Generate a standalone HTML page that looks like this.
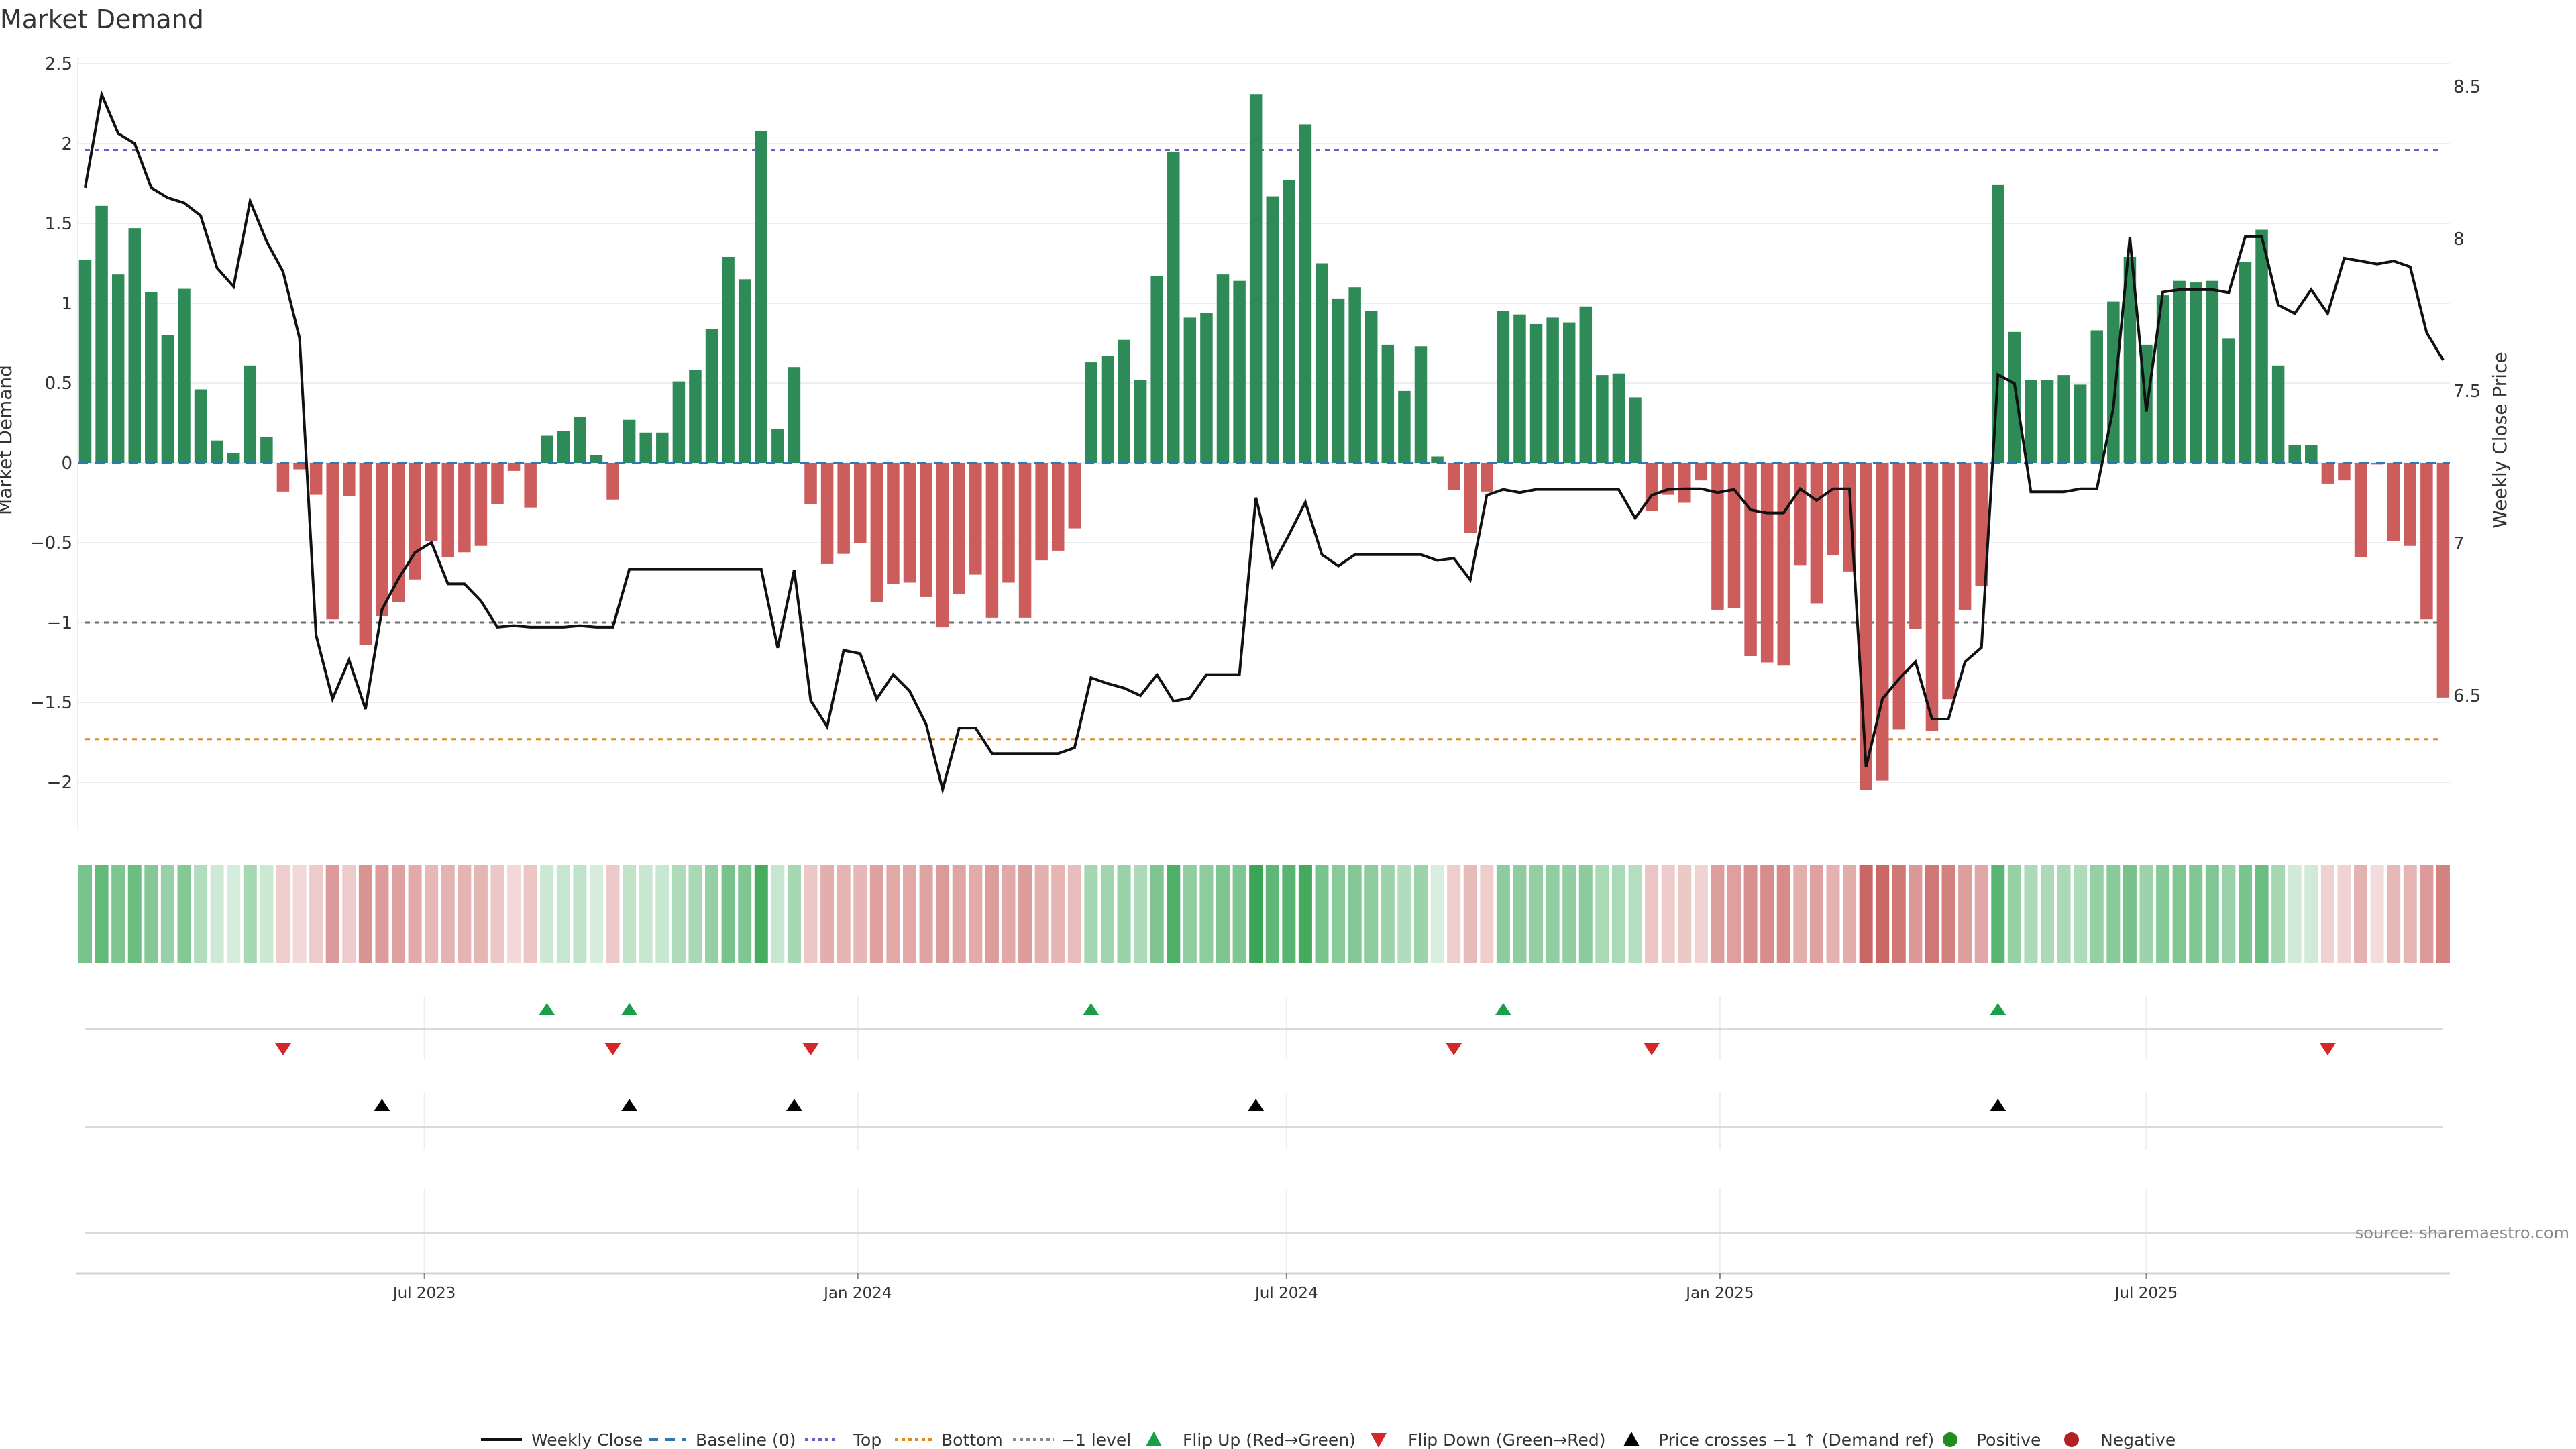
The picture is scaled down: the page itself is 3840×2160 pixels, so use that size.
<!DOCTYPE html>
<html><head><meta charset="utf-8"><title>Market Demand</title>
<style>
html,body{margin:0;padding:0;background:#fff;}
svg{display:block;font-family:"DejaVu Sans","Liberation Sans",sans-serif;}
</style></head>
<body>
<svg id="chart" width="3840" height="2160" viewBox="0 0 3840 2160" xmlns="http://www.w3.org/2000/svg">
<text x="0" y="42" font-size="38" fill="#333">Market Demand</text>
<g id="grid"></g>
<g id="levels"></g>
<g id="bars"></g>
<g id="baseline"></g>
<g id="price"></g>
<g id="heat"></g>
<g id="markers"></g>
<g id="axes"></g>
<text x="17" y="656" font-size="28" fill="#333" text-anchor="middle" transform="rotate(-90 17 656)">Market Demand</text>
<text x="3736" y="656" font-size="28" fill="#333" text-anchor="middle" transform="rotate(-90 3736 656)">Weekly Close Price</text>
<text x="3830" y="1846" font-size="24" fill="#888" text-anchor="end">source: sharemaestro.com</text>
<g id="legend"></g>
</svg>
<script>
const demand = [1.27,1.61,1.18,1.47,1.07,0.80,1.09,0.46,0.14,0.06,0.61,0.16,-0.18,-0.04,-0.20,-0.98,-0.21,-1.14,-0.96,-0.87,-0.73,-0.49,-0.59,-0.56,-0.52,-0.26,-0.05,-0.28,0.17,0.20,0.29,0.05,-0.23,0.27,0.19,0.19,0.51,0.58,0.84,1.29,1.15,2.08,0.21,0.60,-0.26,-0.63,-0.57,-0.50,-0.87,
-0.76,-0.75,-0.84,-1.03,-0.82,-0.70,-0.97,-0.75,-0.97,-0.61,-0.55,-0.41,0.63,0.67,0.77,0.52,1.17,1.95,0.91,0.94,1.18,1.14,2.31,1.67,1.77,2.12,1.25,1.03,1.10,0.95,0.74,0.45,0.73,0.04,-0.17,-0.44,-0.18,0.95,0.93,0.87,0.91,0.88,0.98,0.55,0.56,0.41,-0.30,-0.20,-0.25,
-0.11,-0.92,-0.91,-1.21,-1.25,-1.27,-0.64,-0.88,-0.58,-0.68,-2.05,-1.99,-1.67,-1.04,-1.68,-1.48,-0.92,-0.77,1.74,0.82,0.52,0.52,0.55,0.49,0.83,1.01,1.29,0.74,1.05,1.14,1.13,1.14,0.78,1.26,1.46,0.61,0.11,0.11,-0.13,-0.11,-0.59,-0.01,-0.49,-0.52,-0.98,-1.47];
const price = [8.168,8.474,8.346,8.313,8.168,8.135,8.118,8.076,7.904,7.843,8.124,7.992,7.892,7.674,6.699,6.489,6.617,6.456,6.783,6.884,6.970,7.003,6.867,6.867,6.811,6.725,6.73,6.725,6.725,6.725,6.73,6.725,6.725,6.915,6.915,6.915,6.915,6.915,6.915,6.915,6.915,6.915,6.657,6.913,6.484,6.398,6.649,6.638,6.489,
6.569,6.515,6.406,6.192,6.394,6.394,6.310,6.310,6.310,6.310,6.310,6.329,6.559,6.540,6.525,6.500,6.569,6.482,6.492,6.569,6.569,6.569,7.150,6.926,7.028,7.135,6.963,6.926,6.963,6.963,6.963,6.963,6.963,6.944,6.951,6.880,7.158,7.177,7.167,7.177,7.177,7.177,7.177,7.177,7.177,7.083,7.158,7.177,7.179,
7.179,7.167,7.177,7.110,7.100,7.100,7.179,7.141,7.179,7.179,6.266,6.490,6.555,6.611,6.423,6.423,6.611,6.658,7.554,7.525,7.169,7.169,7.169,7.179,7.179,7.445,8.005,7.433,7.825,7.833,7.833,7.833,7.823,8.007,8.007,7.783,7.755,7.833,7.755,7.936,7.927,7.917,7.927,7.908,7.692,7.602];
const startDate = "2023-02-07";
const yTicks = [2.5,2,1.5,1,0.5,0,-0.5,-1,-1.5,-2];
const yTickLabels = ["2.5","2","1.5","1","0.5","0","\u22120.5","\u22121","\u22121.5","\u22122"];
const y2Ticks = [8.5,8,7.5,7,6.5];
const y2TickLabels = ["8.5","8","7.5","7","6.5"];
const xTickDates = ["2023-07-01","2024-01-01","2024-07-01","2025-01-01","2025-07-01"];
const xTickLabels = ["Jul 2023","Jan 2024","Jul 2024","Jan 2025","Jul 2025"];
const topLevel = 1.96, bottomLevel = -1.73, minusOneLevel = -1;

const NS = "http://www.w3.org/2000/svg";
function mk(tag, attrs, parent){const e=document.createElementNS(NS,tag);for(const k in attrs)e.setAttribute(k,attrs[k]);parent.appendChild(e);return e;}
const X0=127, STEP=24.58, L=116, R=3652;
const xi = i => X0 + i*STEP;
const xd = d => X0 + ((Date.parse(d)-Date.parse(startDate))/86400000/7)*STEP;
const yv = v => 690 - v*238;
const yp = p => 129 + (8.5-p)*454;

// grid
const grid=document.getElementById('grid');
yTicks.forEach((t,k)=>{
  const l=mk('line',{x1:L,x2:R,y1:yv(t),y2:yv(t),stroke:'#eceef1','stroke-width':2},grid);
  
  
  const tx=mk('text',{x:108,y:yv(t)+9,'font-size':26,fill:'#333','text-anchor':'end'},grid);
  tx.textContent=yTickLabels[k];
  
  
});
y2Ticks.forEach((t,k)=>{
  const tx=mk('text',{x:3657,y:yp(t)+9,'font-size':26,fill:'#333'},grid);
  tx.textContent=y2TickLabels[k];
  
  
});
const ax=mk('line',{x1:L,x2:L,y1:85,y2:1237,stroke:'#eceef1','stroke-width':2},grid);



// levels
const lv=document.getElementById('levels');
[[topLevel,'#6a5acd','top-level'],[minusOneLevel,'#6e6e6e','minus-one-level'],[bottomLevel,'#e08a1e','bottom-level']].forEach(a=>{
  const l=mk('line',{x1:X0,x2:xi(demand.length-1),y1:yv(a[0]),y2:yv(a[0]),stroke:a[1],'stroke-width':3,'stroke-dasharray':'7 7'},lv);
  
  
});

// bars
const bars=document.getElementById('bars');
const BW=18.5;
demand.forEach((v,i)=>{
  const y=Math.min(yv(v),yv(0)), h=Math.abs(yv(v)-yv(0));
  const r=mk('rect',{x:xi(i)-BW/2,y:y,width:BW,height:Math.max(h,0.5),fill:v>=0?'#2e8b57':'#cd5c5c'},bars);
  
  
});
const bl=mk('line',{x1:X0-10,x2:xi(demand.length-1)+10,y1:yv(0),y2:yv(0),stroke:'#2a78b5','stroke-width':3,'stroke-dasharray':'14 11'},document.getElementById('baseline'));



// price
const pl=mk('polyline',{points:price.map((p,i)=>xi(i)+','+yp(p)).join(' '),fill:'none',stroke:'#111','stroke-width':4,'stroke-linejoin':'miter'},document.getElementById('price'));



// heatmap
function mix(a,b,t){return 'rgb('+a.map((c,k)=>Math.round(c+(b[k]-c)*t)).join(',')+')';}
const heat=document.getElementById('heat');
demand.forEach((v,i)=>{
  const t=Math.min(Math.abs(v)/2.3,1);
  const col=v>=0?mix([222,241,228],[58,166,85],Math.pow(t,0.8)):mix([244,222,222],[197,90,87],Math.pow(t,0.8));
  const r=mk('rect',{x:xi(i)-10,y:1289,width:20,height:147,fill:col},heat);
  
  
});

// marker panels
const mg=document.getElementById('markers');
xTickDates.forEach(d=>{
  const x=xd(d);
  [[1485,1578],[1628,1715],[1772,1896]].forEach(s=>{
    const g=mk('line',{x1:x,x2:x,y1:s[0],y2:s[1],stroke:'#eceef1','stroke-width':2},mg);
    
    
  });
});
[1534,1680,1838].forEach(y=>{
  const l=mk('line',{x1:126,x2:3642,y1:y,y2:y,stroke:'#d8dadd','stroke-width':3},mg);
  
  
});
function tri(x,y,up,col,name){
  const pts=up?[[x-12,y+8],[x+12,y+8],[x,y-10]]:[[x-12,y-8],[x+12,y-8],[x,y+10]];
  const p=mk('polygon',{points:pts.map(a=>a.join(',')).join(' '),fill:col},mg);
  
  
}
const thr=price.length?(7.263+0.523*minusOneLevel):0;
for(let i=1;i<demand.length;i++){
  if(demand[i-1]<0&&demand[i]>=0) tri(xi(i),1505,true,'#1a9e4a','flip-up-marker');
  if(demand[i-1]>=0&&demand[i]<0) tri(xi(i),1563,false,'#d62728','flip-down-marker');
  if(price[i-1]<thr&&price[i]>=thr) tri(xi(i),1648,true,'#000','price-cross-marker');
}

// x axis
const axg=document.getElementById('axes');
const xl=mk('line',{x1:114,x2:3652,y1:1898,y2:1898,stroke:'#d0d3d6','stroke-width':3},axg);


xTickDates.forEach((d,k)=>{
  const x=xd(d);
  const t=mk('line',{x1:x,x2:x,y1:1898,y2:1907,stroke:'#888','stroke-width':2},axg);
  
  
  const tx=mk('text',{x:x,y:1935,'font-size':23,fill:'#333','text-anchor':'middle'},axg);
  tx.textContent=xTickLabels[k];
  
  
});

// legend
const lg=document.getElementById('legend');
const LY=2146;
function ltext(x,s){const t=mk('text',{x:x,y:LY+9,'font-size':25,fill:'#333'},lg);t.textContent=s;}
function lline(x1,x2,col,dash,w){const l=mk('line',{x1:x1,x2:x2,y1:LY,y2:LY,stroke:col,'stroke-width':w,'stroke-dasharray':dash},lg);}
lline(717,778,'#111','none',4); ltext(792,'Weekly Close');
lline(967,1022,'#2a78b5','14 11',4); ltext(1037,'Baseline (0)');
lline(1200,1251,'#6a5acd','5 5',4); ltext(1272,'Top');
lline(1334,1390,'#e08a1e','5 5',4); ltext(1403,'Bottom');
lline(1510,1571,'#888','5 5',4); ltext(1582,'\u22121 level');
function ltri(x,up,col){const pts=up?[[x-12,LY+10],[x+12,LY+10],[x,LY-12]]:[[x-12,LY-10],[x+12,LY-10],[x,LY+12]];const p=mk('polygon',{points:pts.map(a=>a.join(',')).join(' '),fill:col},lg);}
ltri(1720,true,'#1a9e4a'); ltext(1763,'Flip Up (Red\u2192Green)');
ltri(2055,false,'#d62728'); ltext(2099,'Flip Down (Green\u2192Red)');
ltri(2432,true,'#000'); ltext(2472,'Price crosses \u22121 \u2191 (Demand ref)');
function ldot(x,col){const c=mk('circle',{cx:x,cy:LY,r:11,fill:col},lg);}
ldot(2907,'#228b22'); ltext(2946,'Positive');
ldot(3088,'#b22222'); ltext(3131,'Negative');
</script>
</body></html>
